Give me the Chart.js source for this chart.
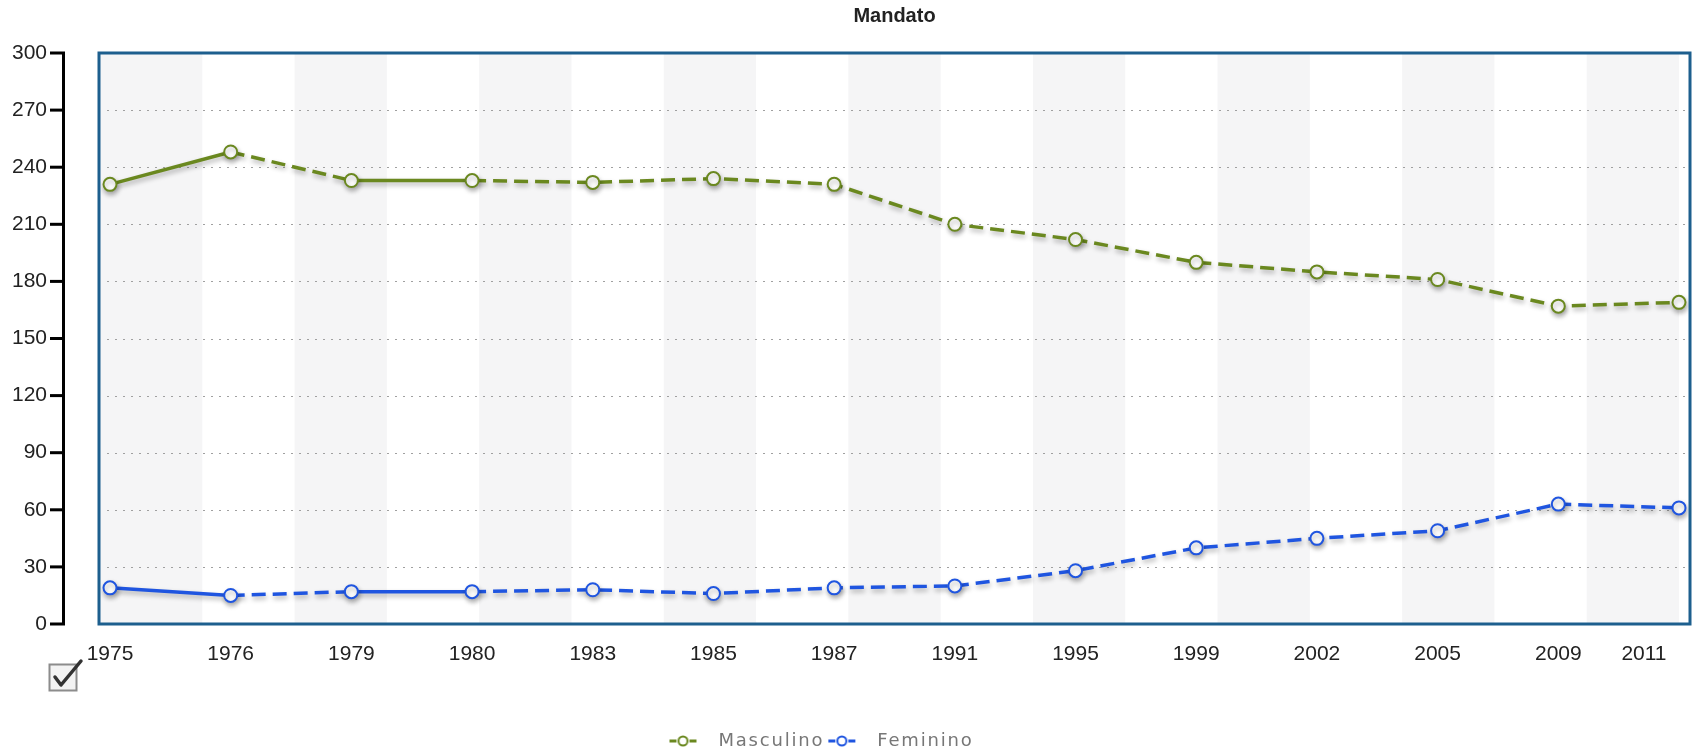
<!DOCTYPE html>
<html>
<head>
<meta charset="utf-8">
<script src="https://cdn.jsdelivr.net/npm/chart.js@4.4.1/dist/chart.umd.min.js"></script>
<style>
html, body { margin: 0; padding: 0; background: #fff; }
#wrap { position: relative; width: 1696px; height: 755px; }
#chartMandato { display: block; }
#check { position: absolute; left: 47px; top: 658px; }
</style>
</head>
<body>
<div id="wrap">
    <canvas id="chartMandato" width="1696" height="755"></canvas>
    <svg id="check" width="40" height="36" viewBox="0 0 40 36">
        <rect x="2.5" y="6.5" width="27" height="26" fill="#f3f3f3" stroke="#8c8c8c" stroke-width="2"/>
        <path d="M8 19 L14 27 L34 3" fill="none" stroke="#333" stroke-width="3.5" stroke-linecap="round" stroke-linejoin="round"/>
    </svg>
</div>
<script>
const anos = ['1975', '1976', '1979', '1980', '1983', '1985', '1987', '1991', '1995', '1999', '2002', '2005', '2009', '2011'];
const masculino = [231, 248, 233, 233, 232, 234, 231, 210, 202, 190, 185, 181, 167, 169];
const feminino = [19, 15, 17, 17, 18, 16, 19, 20, 28, 40, 45, 49, 63, 61];
const yTicks = { min: 0, max: 300, step: 30 };

const corMasc = '#6a881f';
const corFem = '#1f55e0';
const inset = 11;

// icon legend: garis pendek + bulatan
function legendIcon(color) {
    const c = document.createElement('canvas');
    c.width = 44;
    c.height = 14;
    const g = c.getContext('2d');
    g.strokeStyle = color;
    g.lineWidth = 3;
    g.beginPath();
    g.moveTo(4, 7); g.lineTo(11, 7);
    g.moveTo(24, 7); g.lineTo(31, 7);
    g.stroke();
    g.beginPath();
    g.arc(17.5, 7, 4.5, 0, Math.PI * 2);
    g.fillStyle = '#fff';
    g.fill();
    g.lineWidth = 2;
    g.stroke();
    return c;
}
const icons = [legendIcon(corMasc), legendIcon(corFem)];

// spasi huruf legend
function spaced(fn, ctx) {
    return function () {
        const old = ctx.letterSpacing;
        ctx.letterSpacing = '1.8px';
        const res = fn.apply(this, arguments);
        ctx.letterSpacing = old || '0px';
        return res;
    };
}

const frame = {
    id: 'frame',
    beforeUpdate(chart) {
        const lg = chart.legend;
        if (lg && !lg._spaced) {
            lg.fit = spaced(lg.fit, chart.ctx);
            lg.draw = spaced(lg.draw, chart.ctx);
            lg._spaced = true;
        }
    },
    afterLayout(chart) {
        chart.legend.left -= 20;
        chart.legend.right -= 20;
        chart.legend.top += 5;
        chart.legend.bottom += 5;
    },
    beforeDatasetsDraw(chart) {
        const { ctx, chartArea: a, scales: { y } } = chart;
        const l = a.left - inset, r = a.right + inset;
        ctx.save();
        const w = a.width / 17;
        ctx.fillStyle = '#f5f5f6';
        for (let i = 0; i < 17; i += 2) {
            const x0 = i === 0 ? l : a.left + i * w;
            ctx.fillRect(x0, a.top, a.left + (i + 1) * w - x0, a.height);
        }
        ctx.strokeStyle = '#a0a0a0';
        ctx.lineWidth = 1;
        ctx.setLineDash([2, 6]);
        y.ticks.forEach(t => {
            if (t.value > yTicks.min && t.value < yTicks.max) {
                const py = Math.round(y.getPixelForValue(t.value)) + 0.5;
                ctx.beginPath();
                ctx.moveTo(l + 8, py);
                ctx.lineTo(r, py);
                ctx.stroke();
            }
        });
        ctx.restore();
        // bayangan garis
        ctx.save();
        ctx.shadowColor = 'rgba(0,0,0,0.3)';
        ctx.shadowBlur = 5;
        ctx.shadowOffsetX = 1;
        ctx.shadowOffsetY = 3;
    },
    afterDatasetsDraw(chart) {
        const { ctx, chartArea: a, scales: { y } } = chart;
        ctx.restore();
        ctx.save();
        ctx.strokeStyle = '#1d5f8e';
        ctx.lineWidth = 3;
        ctx.strokeRect(a.left - inset, a.top, a.width + inset * 2, a.height);
        // sumbu Y hitam
        const ax = a.left - 48;
        ctx.fillStyle = '#000';
        ctx.fillRect(ax, a.top - 1.5, 3, a.height + 3);
        y.ticks.forEach(t => {
            const py = y.getPixelForValue(t.value);
            ctx.fillRect(ax - 12, py - 1.5, 12, 3);
        });
        ctx.restore();
    }
};

const makeDataset = (label, data, color) => ({
    label: label,
    data: data,
    borderColor: color,
    backgroundColor: color,
    borderWidth: 3.5,
    tension: 0,
    clip: false,
    pointRadius: 6.5,
    pointBorderWidth: 2,
    pointBackgroundColor: '#fff',
    pointBorderColor: color,
    segment: {
        borderDash: c => (c.p0DataIndex === 0 || c.p0DataIndex === 2) ? [] : [14, 7]
    }
});

new Chart(document.getElementById('chartMandato'), {
    type: 'line',
    data: {
        labels: anos,
        datasets: [
            makeDataset('Masculino', masculino, corMasc),
            makeDataset('Feminino', feminino, corFem)
        ]
    },
    options: {
        responsive: false,
        animation: false,
        layout: { padding: { left: 0, right: 17, top: 0, bottom: 0 } },
        plugins: {
            title: {
                display: true,
                text: 'Mandato',
                fullSize: false,
                color: '#222',
                font: { family: 'Liberation Sans, Arial, sans-serif', size: 20, weight: 'bold' },
                padding: { top: 4, bottom: 25 }
            },
            legend: {
                position: 'bottom',
                labels: {
                    usePointStyle: true,
                    pointStyleWidth: 44,
                    padding: 0,
                    color: '#777',
                    font: { family: 'DejaVu Sans, Verdana, sans-serif', size: 18 },
                    generateLabels(chart) {
                        const items = Chart.defaults.plugins.legend.labels.generateLabels(chart);
                        items.forEach((it, i) => { it.pointStyle = icons[i]; });
                        return items;
                    }
                }
            },
            tooltip: { enabled: false }
        },
        scales: {
            x: {
                grid: { display: false, drawTicks: false },
                border: { display: false },
                ticks: {
                    autoSkip: false,
                    maxRotation: 0,
                    padding: 18,
                    color: '#222',
                    font: { family: 'Liberation Sans, Arial, sans-serif', size: 21 },
                    callback: function (v, i) {
                        const lab = anos[i];
                        return i === anos.length - 1 ? lab + '\u2007\u2007\u2007\u2007\u2007\u2007' : lab;
                    }
                },
                afterFit(s) {
                    s.height = 103;
                    s.paddingLeft = 0;
                    s.paddingRight = 0;
                }
            },
            y: {
                min: yTicks.min,
                max: yTicks.max,
                grid: { display: false, drawTicks: false },
                border: { display: false },
                ticks: {
                    stepSize: yTicks.step,
                    padding: 63,
                    color: '#222',
                    font: { family: 'Liberation Sans, Arial, sans-serif', size: 21 }
                },
                afterFit(s) {
                    s.width = 110;
                    s.paddingTop = 0;
                    s.paddingBottom = 0;
                }
            }
        }
    },
    plugins: [frame]
});
</script>
</body>
</html>
